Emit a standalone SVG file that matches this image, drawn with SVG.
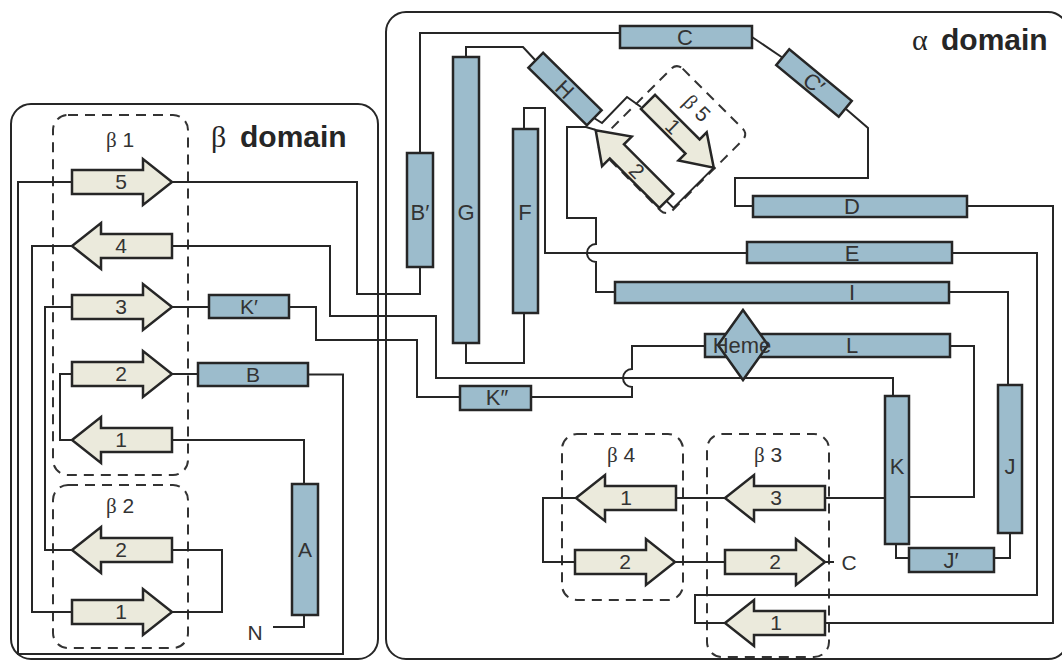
<svg xmlns="http://www.w3.org/2000/svg" xmlns:xlink="http://www.w3.org/1999/xlink" width="1062" height="660" viewBox="0 0 1062 660">
<style>
.ln{fill:none;stroke:#262626;stroke-width:2;stroke-linejoin:miter}
.hx{fill:#9cbccc;stroke:#262626;stroke-width:2.5}
.st{fill:#ebeadc;stroke:#262626;stroke-width:2.5}
.dm{fill:none;stroke:#262626;stroke-width:2}
.db{fill:none;stroke:#333;stroke-width:2;stroke-dasharray:10 7}
.lb{font-family:"Liberation Sans",Arial,sans-serif;font-size:21px;fill:#333;text-anchor:middle}
.la{font-family:"Liberation Sans",Arial,sans-serif;font-size:22px;fill:#333;text-anchor:middle}
.gr{font-family:"Liberation Serif","Times New Roman",serif}
.dt{font-family:"Liberation Sans",Arial,sans-serif;font-size:30px;font-weight:bold;fill:#262626}
</style>
<defs>
<polygon id="ar" points="0,-12 71,-12 71,-23 100,0 71,23 71,12 0,12"/>
<polygon id="al" points="100,-12 29,-12 29,-23 0,0 29,23 29,12 100,12"/>
</defs>
<rect width="1062" height="660" fill="#fff"/>

<g id="domains">
<rect class="dm" x="11" y="104" width="367" height="555" rx="20"/>
<rect class="dm" x="386" y="12" width="682" height="647" rx="20"/>
<text class="dt" x="211" y="147"><tspan class="gr" font-weight="normal">β</tspan><tspan x="240">domain</tspan></text>
<text class="dt" x="912" y="50"><tspan class="gr" font-weight="normal">α</tspan><tspan x="941">domain</tspan></text>
</g>

<g id="sheets">
<rect class="db" x="53" y="115" width="135" height="360" rx="15"/>
<text class="lb" x="120" y="147" font-size="20"><tspan class="gr">β</tspan> 1</text>
<rect class="db" x="53" y="485" width="135" height="163" rx="15"/>
<text class="lb" x="120" y="513" font-size="20"><tspan class="gr">β</tspan> 2</text>
<rect class="db" x="562" y="434" width="121" height="166" rx="15"/>
<text class="lb" x="621" y="462" font-size="20"><tspan class="gr">β</tspan> 4</text>
<rect class="db" x="707" y="434" width="122" height="223" rx="15"/>
<text class="lb" x="768" y="462" font-size="20"><tspan class="gr">β</tspan> 3</text>
<g transform="translate(677,63) rotate(45)">
<rect class="db" x="0" y="0" width="101" height="116" rx="8"/>
<text class="lb" x="46" y="25" font-size="20"><tspan class="gr">β</tspan> 5</text>
</g>
</g>

<g id="connectors">
<path class="ln" d="M308,374.5 H343 V654 H18 V182 H72"/>
<path class="ln" d="M172,374 H198"/>
<path class="ln" d="M72,374 H60 V440 H72"/>
<path class="ln" d="M172,440 H304 V484"/>
<path class="ln" d="M304,615 V627 H273"/>
<path class="ln" d="M72,246 H32 V612 H72"/>
<path class="ln" d="M172,612 H222 V550 H172"/>
<path class="ln" d="M72,550 H45 V307 H72"/>
<path class="ln" d="M172,307 H209"/>
<path class="ln" d="M289,307 H316 V340 H417 V397 H460"/>
<path class="ln" d="M172,182 H357 V294 H420 V267"/>
<path class="ln" d="M172,246 H330 V316 H436 V378 H893 V396"/>
<path class="ln" d="M420,153 V33 H620"/>
<path class="ln" d="M752,37 L783,58"/>
<path class="ln" d="M846,109 L868,128 V178 H735 V206 H753"/>
<path class="ln" d="M466,57 V47 H523 L536,61"/>
<path class="ln" d="M594,118 L602,123 L627,97 L641,107"/>
<path class="ln" transform="translate(677,63) rotate(45)" d="M100,48 V105 H90"/>
<path class="ln" d="M596,130 L586,127 H567 V218 H596 V244 A9,9 0 0 0 596,262 V292 H615"/>
<path class="ln" d="M466,343 V363 H524 V313"/>
<path class="ln" d="M524,129 V108 H545 V253 H747"/>
<path class="ln" d="M949,292 H1008 V385"/>
<path class="ln" d="M1010,533 V558 H994"/>
<path class="ln" d="M909,558 H896 V544"/>
<path class="ln" d="M909,497 H974 V346 H950"/>
<path class="ln" d="M531,397 H632 V387 A9,9 0 0 1 632,369 V346 H705"/>
<path class="ln" d="M826,498 H885"/>
<path class="ln" d="M675,498 H725"/>
<path class="ln" d="M576,498 H543 V562 H575"/>
<path class="ln" d="M675,562 H725"/>
<path class="ln" d="M826,562 H834"/>
<path class="ln" d="M967,206 H1053 V623 H826"/>
<path class="ln" d="M725,623 H695 V595 H1037 V253 H952"/>
</g>

<g id="helix-A"><rect class="hx" x="292" y="484" width="26" height="131"/><text class="lb" x="305" y="557">A</text></g>
<g id="helix-B"><rect class="hx" x="198" y="363" width="110" height="23"/><text class="lb" x="253" y="382">B</text></g>
<g id="helix-Kp"><rect class="hx" x="209" y="295" width="80" height="23"/><text class="lb" x="249" y="314">K′</text></g>
<g id="helix-Kpp"><rect class="hx" x="460" y="386" width="71" height="24"/><text class="la" x="497" y="405">K″</text></g>
<g id="helix-Bp"><rect class="hx" x="407" y="153" width="26" height="114"/><text class="la" x="420" y="220">B′</text></g>
<g id="helix-G"><rect class="hx" x="453" y="57" width="26" height="286"/><text class="la" x="466" y="220">G</text></g>
<g id="helix-F"><rect class="hx" x="513" y="129" width="25" height="184"/><text class="la" x="525" y="220">F</text></g>
<g id="helix-H" transform="translate(565,89) rotate(44.5)"><rect class="hx" x="-41" y="-10.5" width="82" height="21"/><text class="la" x="0" y="8">H</text></g>
<g id="helix-C"><rect class="hx" x="620" y="26" width="132" height="22"/><text class="la" x="685" y="45">C</text></g>
<g id="helix-Cp" transform="translate(814,83) rotate(39.5)"><rect class="hx" x="-40.5" y="-10.25" width="81" height="20.5"/><text class="la" x="0" y="8">C′</text></g>
<g id="helix-D"><rect class="hx" x="753" y="196" width="214" height="21"/><text class="la" x="852" y="214">D</text></g>
<g id="helix-E"><rect class="hx" x="747" y="242" width="205" height="21"/><text class="la" x="852" y="261">E</text></g>
<g id="helix-I"><rect class="hx" x="615" y="282" width="334" height="21"/><text class="la" x="852" y="300">I</text></g>
<g id="helix-L"><rect class="hx" x="705" y="334" width="245" height="23"/><text class="la" x="852" y="353">L</text></g>
<g id="heme"><polygon class="hx" points="743,310 768,345 743,380 718,345"/><text class="la" x="742" y="353">Heme</text></g>
<g id="helix-K"><rect class="hx" x="885" y="396" width="24" height="148"/><text class="la" x="897" y="474">K</text></g>
<g id="helix-J"><rect class="hx" x="998" y="385" width="24" height="148"/><text class="la" x="1010" y="474">J</text></g>
<g id="helix-Jp"><rect class="hx" x="909" y="548" width="85" height="24"/><text class="la" x="951" y="568">J′</text></g>

<g id="b1-5"><use xlink:href="#ar" class="st" x="72" y="182"/><text class="lb" x="121" y="189">5</text></g>
<g id="b1-4"><use xlink:href="#al" class="st" x="72" y="246"/><text class="lb" x="121" y="253">4</text></g>
<g id="b1-3"><use xlink:href="#ar" class="st" x="72" y="307"/><text class="lb" x="121" y="314">3</text></g>
<g id="b1-2"><use xlink:href="#ar" class="st" x="72" y="374"/><text class="lb" x="121" y="381">2</text></g>
<g id="b1-1"><use xlink:href="#al" class="st" x="72" y="440"/><text class="lb" x="121" y="447">1</text></g>
<g id="b2-2"><use xlink:href="#al" class="st" x="72" y="550"/><text class="lb" x="121" y="557">2</text></g>
<g id="b2-1"><use xlink:href="#ar" class="st" x="72" y="612"/><text class="lb" x="121" y="619">1</text></g>
<g id="b4-1"><use xlink:href="#al" class="st" x="576" y="498"/><text class="lb" x="626" y="505">1</text></g>
<g id="b4-2"><use xlink:href="#ar" class="st" x="575" y="562"/><text class="lb" x="625" y="569">2</text></g>
<g id="b3-3"><use xlink:href="#al" class="st" x="725" y="498"/><text class="lb" x="776" y="505">3</text></g>
<g id="b3-2"><use xlink:href="#ar" class="st" x="725" y="562"/><text class="lb" x="775" y="569">2</text></g>
<g id="b3-1"><use xlink:href="#al" class="st" x="725" y="623"/><text class="lb" x="776" y="630">1</text></g>
<g id="b5-1" transform="translate(677,63) rotate(45)"><polygon class="st" points="7,38 70,38 70,28 100,48 70,68 70,58 7,58"/><text class="lb" x="42" y="55" font-size="19">1</text></g>
<g id="b5-2" transform="translate(677,63) rotate(45)"><polygon class="st" points="90,95 20,95 20,84 -10,105 20,126 20,115 90,115"/><text class="lb" x="48" y="112" font-size="19">2</text></g>

<g id="termini">
<text class="lb" x="255" y="640" font-size="20">N</text>
<text class="lb" x="849" y="570" font-size="20">C</text>
</g>
</svg>
